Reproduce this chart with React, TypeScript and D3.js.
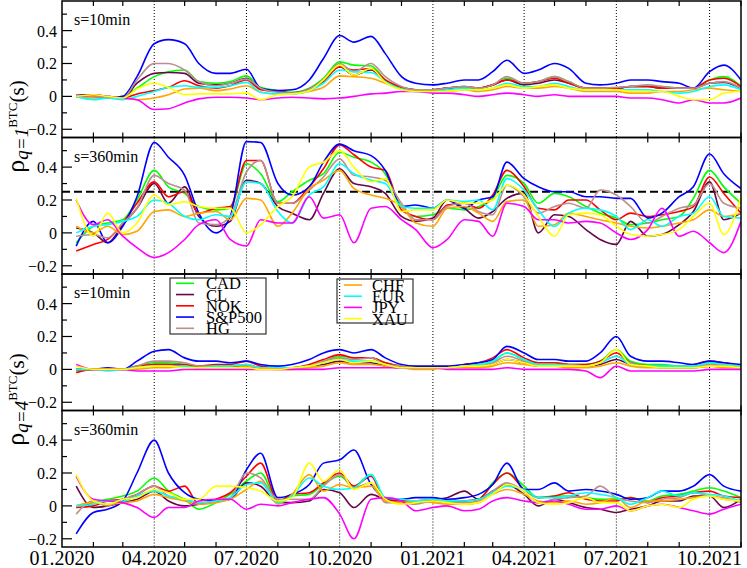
import * as d3 from "d3";
import React, { useEffect, useRef } from "react";

const width = 747;
const height = 568;
const plotLeft = 62;
const plotRight = 741;
const panelTops = [1, 137.5, 274, 410.5];
const panelHeight = 136.5;
const yDomain: [number, number] = [-0.25, 0.58];

const seriesNames = ["CAD", "CL", "NOK", "S&P500", "HG", "CHF", "EUR", "JPY", "XAU"];
const seriesColors = ["#00ff00", "#670748", "#ff0000", "#0000ff", "#bc8f8f", "#ffa500", "#00ffff", "#ff00ff", "#ffff00"];
const panelLabels = ["s=10min", "s=360min", "s=10min", "s=360min"];
const yTickValues = [-0.2, 0, 0.2, 0.4];
const yMinorValues = [-0.1, 0.1, 0.3, 0.5];

const sampleDates = [
    "2020-01-15", "2020-02-01", "2020-02-15", "2020-03-01", "2020-03-15", "2020-04-01", "2020-04-15", "2020-05-01", "2020-05-15", "2020-06-01", "2020-06-15",
    "2020-07-01", "2020-07-15", "2020-08-01", "2020-08-15", "2020-09-01", "2020-09-15", "2020-10-01", "2020-10-15", "2020-11-01", "2020-11-15", "2020-12-01",
    "2020-12-15", "2021-01-01", "2021-01-15", "2021-02-01", "2021-02-15", "2021-03-01", "2021-03-15", "2021-04-01", "2021-04-15", "2021-05-01", "2021-05-15",
    "2021-06-01", "2021-06-15", "2021-07-01", "2021-07-15", "2021-08-01", "2021-08-15", "2021-09-01", "2021-09-15", "2021-10-01", "2021-10-15", "2021-11-01",
];

// q=1, s=10min
const cad1 = [0.00, 0.00, -0.01, 0.00, 0.05, 0.12, 0.15, 0.16, 0.09, 0.08, 0.09, 0.125, 0.055, 0.035, 0.025, 0.05, 0.11, 0.21, 0.19, 0.185, 0.10, 0.055, 0.04, 0.04, 0.05, 0.06, 0.05, 0.07, 0.11, 0.08, 0.09, 0.12, 0.09, 0.05, 0.05, 0.05, 0.06, 0.06, 0.06, 0.05, 0.05, 0.10, 0.12, 0.06];
const cl1 = [0.01, 0.01, 0.00, -0.01, 0.08, 0.14, 0.145, 0.14, 0.08, 0.07, 0.08, 0.11, 0.045, 0.03, 0.02, 0.045, 0.10, 0.18, 0.13, 0.16, 0.09, 0.055, 0.04, 0.04, 0.05, 0.05, 0.05, 0.07, 0.10, 0.07, 0.08, 0.10, 0.08, 0.05, 0.05, 0.05, 0.06, 0.06, 0.05, 0.05, 0.05, 0.08, 0.085, 0.05];
const nok1 = [0.00, 0.00, -0.01, -0.01, 0.015, 0.035, 0.055, 0.095, 0.065, 0.05, 0.065, 0.10, 0.04, 0.03, 0.02, 0.04, 0.09, 0.18, 0.16, 0.17, 0.10, 0.055, 0.04, 0.04, 0.05, 0.06, 0.05, 0.07, 0.10, 0.08, 0.09, 0.11, 0.08, 0.05, 0.05, 0.05, 0.06, 0.06, 0.05, 0.05, 0.05, 0.10, 0.11, 0.06];
const sp1 = [0.01, 0.00, -0.01, 0.00, 0.12, 0.32, 0.345, 0.32, 0.20, 0.14, 0.14, 0.165, 0.05, 0.035, 0.04, 0.10, 0.23, 0.37, 0.33, 0.365, 0.26, 0.12, 0.08, 0.07, 0.08, 0.10, 0.10, 0.15, 0.22, 0.14, 0.16, 0.20, 0.17, 0.08, 0.07, 0.08, 0.10, 0.10, 0.09, 0.08, 0.05, 0.15, 0.19, 0.10];
const hg1 = [0.01, 0.00, 0.00, -0.01, 0.10, 0.20, 0.20, 0.16, 0.09, 0.065, 0.08, 0.105, 0.05, 0.025, 0.02, 0.045, 0.10, 0.20, 0.15, 0.20, 0.12, 0.06, 0.04, 0.04, 0.05, 0.06, 0.05, 0.07, 0.12, 0.08, 0.09, 0.12, 0.09, 0.05, 0.05, 0.055, 0.06, 0.07, 0.06, 0.05, 0.05, 0.08, 0.09, 0.05];
const chf1 = [0.00, -0.01, -0.01, -0.01, -0.02, -0.01, 0.01, 0.045, 0.05, 0.035, 0.045, 0.065, 0.025, 0.015, 0.015, 0.03, 0.055, 0.125, 0.12, 0.11, 0.08, 0.045, 0.03, 0.03, 0.03, 0.04, 0.03, 0.04, 0.06, 0.05, 0.05, 0.06, 0.05, 0.03, 0.03, 0.03, 0.02, 0.02, 0.03, 0.03, 0.04, 0.05, 0.04, 0.03];
const eur1 = [0.00, -0.02, -0.01, -0.02, 0.00, 0.03, 0.055, 0.065, 0.055, 0.055, 0.065, 0.085, 0.025, 0.015, 0.015, 0.035, 0.08, 0.16, 0.15, 0.145, 0.09, 0.045, 0.03, 0.03, 0.04, 0.05, 0.04, 0.05, 0.08, 0.06, 0.06, 0.08, 0.06, 0.04, 0.04, 0.04, 0.04, 0.04, 0.03, 0.02, 0.03, 0.06, 0.07, 0.04];
const jpy1 = [0.00, 0.01, 0.00, -0.01, -0.02, -0.08, -0.075, -0.04, -0.015, -0.005, -0.005, -0.01, -0.02, -0.01, -0.005, -0.01, -0.015, -0.01, 0.00, 0.015, 0.02, 0.03, 0.03, 0.02, 0.02, 0.01, 0.00, 0.01, 0.02, 0.01, 0.00, 0.01, 0.00, 0.00, 0.00, 0.00, -0.01, -0.01, -0.02, -0.04, -0.02, -0.04, -0.04, -0.01];
const xau1 = [0.00, 0.01, 0.00, -0.01, 0.045, 0.08, 0.055, 0.01, 0.015, 0.015, 0.015, 0.02, -0.02, 0.01, 0.015, 0.035, 0.10, 0.19, 0.13, 0.17, 0.085, 0.04, 0.03, 0.03, 0.03, 0.04, 0.04, 0.05, 0.07, 0.05, 0.06, 0.07, 0.05, 0.04, 0.04, 0.04, 0.03, 0.03, 0.03, 0.00, -0.02, -0.02, 0.02, 0.03];

// q=1, s=360min
const cad2 = [-0.06, 0.04, 0.06, 0.08, 0.20, 0.38, 0.28, 0.24, 0.16, 0.14, 0.15, 0.42, 0.36, 0.19, 0.25, 0.32, 0.36, 0.49, 0.46, 0.43, 0.36, 0.16, 0.10, 0.11, 0.15, 0.14, 0.16, 0.21, 0.35, 0.30, 0.18, 0.24, 0.22, 0.16, 0.12, 0.09, 0.05, 0.06, 0.08, 0.10, 0.21, 0.38, 0.28, 0.18];
const cl2 = [0.03, 0.00, -0.06, 0.05, 0.15, 0.30, 0.18, 0.28, 0.10, 0.04, 0.07, 0.32, 0.30, 0.16, 0.12, 0.08, 0.24, 0.39, 0.30, 0.28, 0.24, 0.10, 0.07, 0.09, 0.20, 0.15, 0.09, 0.13, 0.21, 0.24, 0.00, 0.11, 0.10, 0.02, -0.04, -0.07, 0.07, -0.02, -0.01, 0.05, 0.13, 0.31, 0.08, 0.12];
const nok2 = [-0.11, -0.07, -0.04, 0.06, 0.18, 0.31, 0.22, 0.25, 0.12, 0.15, 0.16, 0.44, 0.44, 0.18, 0.18, 0.28, 0.39, 0.535, 0.475, 0.40, 0.38, 0.14, 0.10, 0.08, 0.17, 0.18, 0.15, 0.23, 0.38, 0.28, 0.15, 0.14, 0.20, 0.20, 0.14, 0.08, 0.12, 0.10, 0.11, 0.13, 0.16, 0.34, 0.24, 0.12];
const sp2 = [-0.08, 0.07, -0.06, 0.04, 0.22, 0.55, 0.46, 0.35, 0.12, 0.00, 0.10, 0.555, 0.55, 0.30, 0.23, 0.28, 0.43, 0.54, 0.50, 0.47, 0.38, 0.16, 0.17, 0.15, 0.20, 0.15, 0.20, 0.22, 0.43, 0.33, 0.28, 0.25, 0.25, 0.22, 0.22, 0.21, 0.21, 0.09, 0.12, 0.22, 0.28, 0.48, 0.36, 0.27];
const hg2 = [-0.02, -0.01, -0.03, 0.06, 0.15, 0.35, 0.30, 0.26, 0.06, 0.05, 0.10, 0.37, 0.44, 0.18, 0.18, 0.26, 0.34, 0.45, 0.35, 0.34, 0.32, 0.18, 0.08, 0.08, 0.16, 0.18, 0.13, 0.11, 0.29, 0.22, 0.12, 0.16, 0.18, 0.15, 0.26, 0.23, 0.16, 0.06, 0.10, 0.15, 0.17, 0.30, 0.18, 0.15];
const chf2 = [0.04, 0.00, 0.04, -0.01, 0.01, 0.13, 0.14, 0.10, 0.12, 0.13, 0.08, 0.21, 0.20, 0.04, 0.12, 0.27, 0.32, 0.38, 0.27, 0.23, 0.21, 0.16, 0.06, 0.04, 0.15, 0.16, 0.12, 0.07, 0.19, 0.20, 0.04, 0.05, 0.12, 0.10, 0.08, 0.06, 0.04, 0.03, 0.04, 0.06, 0.08, 0.14, 0.10, 0.12];
const eur2 = [0.00, 0.04, 0.05, 0.07, 0.10, 0.20, 0.18, 0.10, 0.08, 0.11, 0.10, 0.31, 0.30, 0.13, 0.06, 0.23, 0.28, 0.42, 0.36, 0.32, 0.30, 0.16, 0.15, 0.15, 0.20, 0.19, 0.20, 0.14, 0.33, 0.26, 0.14, 0.04, 0.12, 0.15, 0.14, 0.10, 0.02, 0.08, 0.04, 0.10, 0.12, 0.22, 0.10, 0.09];
const jpy2 = [0.20, 0.05, 0.08, -0.02, -0.09, -0.15, -0.12, -0.04, 0.05, 0.08, -0.04, -0.08, 0.08, 0.06, 0.06, 0.22, 0.09, 0.11, -0.06, 0.15, 0.16, 0.08, 0.02, -0.09, -0.04, 0.08, 0.07, -0.02, 0.18, 0.16, 0.08, 0.08, 0.06, 0.07, 0.06, 0.00, -0.04, 0.02, 0.15, -0.02, 0.01, -0.06, -0.12, 0.07];
const xau2 = [0.21, -0.02, 0.12, 0.00, 0.06, 0.23, 0.17, 0.19, 0.16, 0.15, 0.15, 0.00, 0.05, 0.16, 0.22, 0.40, 0.43, 0.50, 0.40, 0.31, 0.33, 0.13, 0.14, 0.14, 0.20, 0.18, 0.18, 0.20, 0.29, 0.23, 0.10, -0.02, 0.11, 0.12, 0.11, 0.04, -0.01, -0.02, -0.01, 0.02, 0.10, 0.18, -0.01, 0.22];

// q=4, s=10min
const cad3 = [-0.01, 0.00, 0.00, 0.00, 0.02, 0.04, 0.04, 0.03, 0.02, 0.02, 0.02, 0.03, 0.01, 0.01, 0.01, 0.02, 0.05, 0.08, 0.07, 0.07, 0.04, 0.02, 0.01, 0.01, 0.01, 0.02, 0.03, 0.05, 0.10, 0.06, 0.04, 0.04, 0.03, 0.03, 0.05, 0.12, 0.05, 0.03, 0.03, 0.02, 0.02, 0.04, 0.03, 0.02];
const cl3 = [0.00, 0.00, 0.00, 0.00, 0.01, 0.03, 0.03, 0.02, 0.02, 0.02, 0.02, 0.02, 0.01, 0.01, 0.01, 0.02, 0.03, 0.05, 0.04, 0.04, 0.02, 0.01, 0.01, 0.01, 0.01, 0.02, 0.02, 0.03, 0.06, 0.04, 0.02, 0.02, 0.02, 0.02, 0.03, 0.06, 0.03, 0.02, 0.01, 0.01, 0.01, 0.02, 0.02, 0.01];
const nok3 = [-0.02, 0.00, 0.00, 0.00, 0.02, 0.03, 0.03, 0.03, 0.02, 0.03, 0.03, 0.05, 0.02, 0.01, 0.01, 0.03, 0.06, 0.09, 0.07, 0.07, 0.04, 0.02, 0.01, 0.01, 0.01, 0.03, 0.04, 0.07, 0.12, 0.07, 0.04, 0.04, 0.03, 0.03, 0.05, 0.10, 0.04, 0.02, 0.02, 0.02, 0.03, 0.05, 0.04, 0.02];
const sp3 = [0.00, 0.00, 0.01, 0.00, 0.05, 0.11, 0.12, 0.07, 0.05, 0.05, 0.04, 0.05, 0.03, 0.02, 0.03, 0.06, 0.10, 0.12, 0.10, 0.12, 0.07, 0.03, 0.02, 0.02, 0.02, 0.03, 0.04, 0.06, 0.14, 0.10, 0.06, 0.06, 0.05, 0.05, 0.10, 0.20, 0.08, 0.05, 0.05, 0.04, 0.03, 0.05, 0.04, 0.03];
const hg3 = [0.00, 0.00, 0.00, 0.00, 0.02, 0.05, 0.05, 0.04, 0.02, 0.02, 0.02, 0.03, 0.01, 0.01, 0.01, 0.02, 0.05, 0.07, 0.06, 0.07, 0.03, 0.02, 0.01, 0.01, 0.01, 0.02, 0.02, 0.04, 0.08, 0.05, 0.03, 0.03, 0.03, 0.02, 0.04, 0.08, 0.04, 0.02, 0.02, 0.02, 0.02, 0.03, 0.03, 0.02];
const chf3 = [0.00, 0.00, 0.00, 0.00, 0.00, 0.01, 0.01, 0.02, 0.01, 0.01, 0.01, 0.02, 0.01, 0.00, 0.00, 0.01, 0.02, 0.04, 0.03, 0.03, 0.02, 0.01, 0.00, 0.00, 0.01, 0.01, 0.01, 0.02, 0.04, 0.03, 0.02, 0.02, 0.01, 0.01, 0.02, 0.04, 0.02, 0.01, 0.01, 0.01, 0.01, 0.02, 0.01, 0.01];
const eur3 = [0.00, 0.00, -0.01, 0.00, 0.01, 0.02, 0.02, 0.02, 0.01, 0.02, 0.02, 0.03, 0.01, 0.01, 0.01, 0.02, 0.04, 0.06, 0.05, 0.05, 0.03, 0.01, 0.01, 0.01, 0.01, 0.02, 0.03, 0.05, 0.10, 0.06, 0.03, 0.03, 0.02, 0.02, 0.04, 0.08, 0.03, 0.02, 0.02, 0.02, 0.02, 0.04, 0.03, 0.02];
const jpy3 = [0.03, 0.00, 0.00, 0.00, -0.01, -0.01, -0.01, 0.00, 0.00, 0.00, 0.00, 0.00, 0.00, 0.00, 0.00, 0.00, 0.00, 0.01, 0.01, 0.01, 0.01, 0.01, 0.01, 0.01, 0.00, 0.00, 0.00, 0.00, 0.01, 0.00, 0.00, 0.00, 0.00, -0.01, -0.05, 0.02, -0.01, -0.01, -0.01, -0.01, -0.01, 0.00, 0.00, 0.00];
const xau3 = [0.02, 0.00, 0.00, 0.00, 0.01, 0.02, 0.02, 0.01, 0.01, 0.01, 0.01, 0.01, 0.00, 0.00, 0.01, 0.02, 0.04, 0.06, 0.04, 0.05, 0.03, 0.01, 0.01, 0.01, 0.01, 0.02, 0.02, 0.03, 0.06, 0.04, 0.02, 0.02, 0.02, 0.02, 0.04, 0.12, 0.03, 0.02, 0.01, 0.01, 0.01, 0.02, 0.02, 0.01];

// q=4, s=360min
const cad4 = [0.00, 0.02, 0.04, 0.06, 0.09, 0.17, 0.09, 0.04, -0.02, 0.02, 0.07, 0.15, 0.20, 0.03, 0.06, 0.07, 0.13, 0.18, 0.12, 0.19, 0.04, 0.03, 0.03, 0.03, 0.03, 0.03, 0.04, 0.14, 0.20, 0.12, 0.05, 0.06, 0.06, 0.05, 0.04, 0.04, 0.05, 0.03, 0.06, 0.07, 0.09, 0.11, 0.09, 0.05];
const cl4 = [0.12, -0.01, 0.00, 0.02, 0.04, 0.09, 0.03, 0.00, 0.01, 0.03, 0.04, 0.14, 0.12, 0.02, 0.02, 0.03, 0.10, 0.08, -0.01, 0.07, 0.04, 0.03, 0.03, 0.04, 0.05, 0.09, 0.04, 0.09, 0.13, 0.07, 0.00, 0.04, 0.02, -0.01, -0.02, -0.04, -0.02, 0.00, 0.03, 0.03, 0.06, 0.06, -0.01, 0.04];
const nok4 = [-0.01, 0.00, 0.03, 0.04, 0.07, 0.12, 0.09, 0.12, 0.01, 0.04, 0.08, 0.18, 0.26, 0.03, 0.07, 0.08, 0.14, 0.20, 0.12, 0.18, 0.03, 0.03, 0.02, 0.03, 0.02, 0.03, 0.04, 0.13, 0.20, 0.10, 0.05, 0.06, 0.08, 0.04, 0.03, 0.03, 0.05, 0.02, 0.05, 0.06, 0.08, 0.09, 0.06, 0.05];
const sp4 = [-0.17, -0.04, -0.02, 0.03, 0.20, 0.40, 0.20, 0.08, 0.04, 0.03, 0.04, 0.22, 0.32, 0.05, 0.07, 0.13, 0.26, 0.28, 0.34, 0.13, 0.05, 0.04, 0.05, 0.05, 0.04, 0.05, 0.07, 0.13, 0.26, 0.10, 0.10, 0.14, 0.09, 0.10, 0.09, 0.07, 0.04, 0.05, 0.09, 0.09, 0.12, 0.19, 0.12, 0.09];
const hg4 = [-0.05, 0.03, 0.00, 0.04, 0.07, 0.12, 0.06, 0.04, 0.02, 0.03, 0.05, 0.20, 0.17, 0.04, 0.04, 0.04, 0.12, 0.19, 0.11, 0.14, 0.02, 0.02, 0.01, 0.03, 0.02, 0.02, 0.03, 0.09, 0.14, 0.09, 0.02, 0.04, 0.05, 0.06, 0.12, 0.05, 0.03, 0.02, 0.04, 0.05, 0.08, 0.06, 0.05, 0.02];
const chf4 = [0.00, 0.02, 0.01, 0.02, 0.03, 0.07, 0.05, 0.03, 0.01, 0.02, 0.04, 0.10, 0.15, 0.01, 0.07, 0.19, 0.09, 0.13, 0.11, 0.12, 0.03, 0.02, 0.03, 0.02, 0.01, 0.01, 0.02, 0.07, 0.10, 0.07, 0.03, 0.02, 0.03, 0.01, 0.02, 0.05, -0.01, 0.03, 0.03, 0.04, 0.05, 0.06, 0.04, 0.03];
const eur4 = [0.00, 0.01, 0.03, 0.03, 0.06, 0.09, 0.06, 0.04, 0.02, 0.03, 0.05, 0.13, 0.14, 0.02, 0.06, 0.17, 0.12, 0.10, 0.11, 0.19, 0.05, 0.04, 0.03, 0.04, 0.03, 0.03, 0.04, 0.08, 0.12, 0.10, 0.05, 0.05, 0.06, 0.08, 0.07, 0.05, 0.01, 0.05, 0.09, 0.06, 0.08, 0.07, 0.06, 0.03];
const jpy4 = [0.18, 0.04, 0.03, 0.02, -0.01, -0.07, -0.01, -0.01, 0.03, 0.04, 0.04, -0.02, 0.01, 0.00, 0.02, 0.04, 0.05, -0.05, -0.20, 0.04, 0.05, 0.03, -0.03, -0.01, 0.00, -0.03, -0.02, 0.03, 0.05, 0.03, 0.02, 0.03, 0.01, -0.02, -0.02, 0.00, -0.03, 0.00, 0.01, -0.01, -0.03, -0.05, -0.02, 0.01];
const xau4 = [0.19, 0.03, 0.01, 0.04, 0.05, 0.10, 0.08, 0.04, 0.04, 0.12, 0.12, 0.11, 0.09, 0.03, 0.05, 0.26, 0.15, 0.22, 0.10, 0.14, 0.04, 0.01, 0.02, 0.03, 0.02, 0.01, 0.02, 0.07, 0.13, 0.09, 0.02, 0.01, 0.02, 0.05, 0.02, 0.02, -0.03, 0.00, 0.01, -0.01, 0.04, 0.06, 0.04, 0.03];

const panels = [
    [cad1, cl1, nok1, sp1, hg1, chf1, eur1, jpy1, xau1],
    [cad2, cl2, nok2, sp2, hg2, chf2, eur2, jpy2, xau2],
    [cad3, cl3, nok3, sp3, hg3, chf3, eur3, jpy3, xau3],
    [cad4, cl4, nok4, sp4, hg4, chf4, eur4, jpy4, xau4],
];

const font = "Liberation Serif, Times New Roman, Times, DejaVu Serif, serif";

const App: React.FC = () => {
    const wrapper = useRef<SVGSVGElement>(null);

    useEffect(() => {
        if (!wrapper.current) return;
        const svg = d3.select(wrapper.current);
        svg.selectAll("*").remove();

        const start = new Date(Date.UTC(2020, 0, 1));
        const end = new Date(Date.UTC(2021, 10, 1));
        const x = d3.scaleUtc().domain([start, end]).range([plotLeft, plotRight]);
        const dates = sampleDates.map((s) => new Date(s + "T00:00:00Z"));
        const months = d3.utcMonth.range(start, d3.utcDay.offset(end, 1));
        const major = months.filter((m) => m.getUTCMonth() % 3 === 0);
        const minor = months.filter((m) => m.getUTCMonth() % 3 !== 0);
        const fmt = d3.utcFormat("%m.%Y");

        const defs = svg.append("defs");

        panels.forEach((series, pi) => {
            const top = panelTops[pi];
            const bottom = top + panelHeight;
            const y = d3.scaleLinear().domain(yDomain).range([bottom, top]);
            const g = svg.append("g");

            defs.append("clipPath")
                .attr("id", `clip_${pi}`)
                .append("rect")
                .attr("x", plotLeft)
                .attr("y", top)
                .attr("width", plotRight - plotLeft)
                .attr("height", panelHeight);

            // dotted major grid (quarter months)
            g.selectAll(null)
                .data(major.filter((m) => +m > +start && +m < +end))
                .enter()
                .append("line")
                .attr("x1", (d) => x(d))
                .attr("x2", (d) => x(d))
                .attr("y1", top)
                .attr("y2", bottom)
                .attr("stroke", "#000")
                .attr("stroke-width", 1)
                .attr("stroke-dasharray", "1,2");

            // minor month ticks, top and bottom
            minor.forEach((m) => {
                g.append("line")
                    .attr("x1", x(m)).attr("x2", x(m))
                    .attr("y1", top).attr("y2", top + 5)
                    .attr("stroke", "#000").attr("stroke-width", 1.2);
                g.append("line")
                    .attr("x1", x(m)).attr("x2", x(m))
                    .attr("y1", bottom).attr("y2", bottom - 5)
                    .attr("stroke", "#000").attr("stroke-width", 1.2);
            });

            // y ticks
            g.selectAll(null)
                .data(yTickValues)
                .enter()
                .append("line")
                .attr("x1", plotLeft)
                .attr("x2", plotLeft + 10)
                .attr("y1", (d) => y(d))
                .attr("y2", (d) => y(d))
                .attr("stroke", "#000")
                .attr("stroke-width", 1.2);
            g.selectAll(null)
                .data(yMinorValues)
                .enter()
                .append("line")
                .attr("x1", plotLeft)
                .attr("x2", plotLeft + 5)
                .attr("y1", (d) => y(d))
                .attr("y2", (d) => y(d))
                .attr("stroke", "#000")
                .attr("stroke-width", 1.2);
            g.selectAll(null)
                .data(yTickValues)
                .enter()
                .append("text")
                .attr("x", plotLeft - 5)
                .attr("y", (d) => y(d) + 6)
                .attr("text-anchor", "end")
                .attr("font-family", font)
                .attr("font-size", 16)
                .text((d) => (d === 0 ? "0" : d3.format(".1f")(d)));

            if (pi === 1) {
                g.append("line")
                    .attr("x1", plotLeft)
                    .attr("x2", plotRight)
                    .attr("y1", y(0.25))
                    .attr("y2", y(0.25))
                    .attr("stroke", "#000")
                    .attr("stroke-width", 2)
                    .attr("stroke-dasharray", "8,4");
            }

            const line = d3
                .line<number>()
                .x((_, i) => x(dates[i]))
                .y((d) => y(d))
                .curve(d3.curveMonotoneX);

            g.append("g")
                .attr("clip-path", `url(#clip_${pi})`)
                .selectAll("path")
                .data(series)
                .join("path")
                .attr("d", (d) => line(d))
                .attr("fill", "none")
                .attr("stroke", (_, i) => seriesColors[i])
                .attr("stroke-width", 1.6)
                .attr("stroke-linejoin", "round");

            g.append("rect")
                .attr("x", plotLeft)
                .attr("y", top)
                .attr("width", plotRight - plotLeft)
                .attr("height", panelHeight)
                .attr("fill", "none")
                .attr("stroke", "#000")
                .attr("stroke-width", 1.5);

            g.append("text")
                .attr("x", 74)
                .attr("y", top + 24)
                .attr("font-family", font)
                .attr("font-size", 16)
                .text(panelLabels[pi]);
        });

        // x tick labels on the bottom panel
        svg.selectAll(null)
            .data(major)
            .enter()
            .append("text")
            .attr("x", (d) => x(d))
            .attr("y", 565)
            .attr("text-anchor", "middle")
            .attr("font-family", font)
            .attr("font-size", 20)
            .text((d) => fmt(d));

        // y axis titles
        [["q=1", panelTops[1]], ["q=4", panelTops[3]]].forEach(([sub, yc]) => {
            const t = svg.append("text")
                .attr("transform", `translate(24, ${(yc as number) - 11}) rotate(-90)`)
                .attr("text-anchor", "middle")
                .attr("font-family", font);
            t.append("tspan").attr("font-size", 26).text("ρ");
            t.append("tspan").attr("dy", 4).attr("font-size", 19).attr("font-style", "italic").text(sub as string);
            t.append("tspan").attr("dy", -11).attr("font-size", 13).text("BTC");
            t.append("tspan").attr("dy", 7).attr("font-size", 21).text("(s)");
        });

        // legends
        const legendBoxes = [
            { x0: 170, y0: 278, w: 96, h: 56, items: [0, 1, 2, 3, 4], first: 283.3, step: 11.25, lx: 176, tx: 206 },
            { x0: 337, y0: 279, w: 76, h: 44, items: [5, 6, 7, 8], first: 285, step: 11.2, lx: 344, tx: 372 },
        ];
        legendBoxes.forEach((b) => {
            const lg = svg.append("g");
            lg.append("rect")
                .attr("x", b.x0)
                .attr("y", b.y0)
                .attr("width", b.w)
                .attr("height", b.h)
                .attr("fill", "none")
                .attr("stroke", "#333")
                .attr("stroke-width", 1.2);
            b.items.forEach((si, k) => {
                const yy = b.first + k * b.step;
                lg.append("line")
                    .attr("x1", b.lx)
                    .attr("x2", b.lx + 18)
                    .attr("y1", yy)
                    .attr("y2", yy)
                    .attr("stroke", seriesColors[si])
                    .attr("stroke-width", 1.6);
                lg.append("text")
                    .attr("x", b.tx)
                    .attr("y", yy + 6)
                    .attr("font-family", font)
                    .attr("font-size", 16.5)
                    .text(seriesNames[si]);
            });
        });
    }, []);

    return (
        <svg
            ref={wrapper}
            width={width}
            height={height}
            style={{ position: "absolute", left: 0, top: 0, background: "#fff" }}
        />
    );
};

export default App;
